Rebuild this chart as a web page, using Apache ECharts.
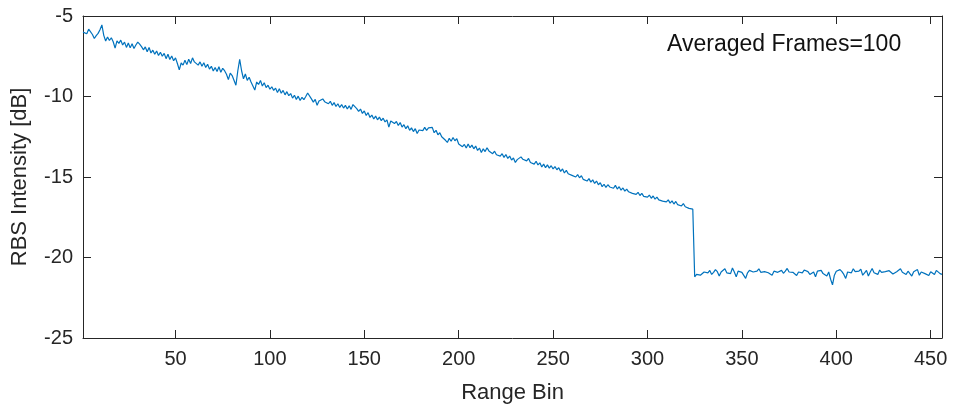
<!DOCTYPE html>
<html>
<head>
<meta charset="utf-8">
<script src="https://cdn.jsdelivr.net/npm/echarts@6/dist/echarts.min.js"></script>
<style>html,body{margin:0;padding:0;background:#fff}#c{width:954px;height:410px}</style>
</head>
<body>
<div id="c"></div>
<script>
// RBS intensity (dB) per range bin, bins 1..456
var intensity = [
-6.00,-5.88,-6.10,-5.82,-5.78,-6.15,-6.40,-6.22,-6.08,-5.85,
-5.55,-6.20,-6.55,-6.30,-6.52,-6.35,-6.60,-7.00,-6.55,-6.70,
-6.50,-6.80,-6.62,-6.95,-6.68,-6.98,-6.72,-7.02,-6.80,-6.62,
-6.75,-6.90,-7.10,-6.92,-7.22,-6.95,-7.30,-7.12,-7.38,-7.18,
-7.45,-7.25,-7.50,-7.32,-7.65,-7.38,-7.70,-7.48,-7.78,-7.60,
-7.95,-8.35,-7.92,-8.05,-7.75,-8.02,-7.68,-7.95,-7.60,-7.85,
-7.78,-8.05,-7.85,-8.12,-7.90,-8.20,-8.00,-8.30,-8.12,-8.42,
-8.20,-8.45,-8.15,-8.50,-8.25,-8.40,-8.62,-8.95,-8.55,-8.70,
-8.60,-9.30,-8.40,-7.70,-8.40,-8.90,-8.60,-9.00,-8.80,-9.10,
-9.00,-9.60,-9.10,-9.25,-9.00,-9.35,-9.15,-9.45,-9.30,-9.55,
-9.40,-9.62,-9.48,-9.75,-9.52,-9.80,-9.62,-9.90,-9.70,-9.95,
-9.82,-10.10,-9.92,-10.18,-9.98,-10.25,-10.05,-10.20,-10.00,-9.78,
-9.85,-10.15,-10.35,-10.18,-10.55,-10.28,-10.40,-10.15,-10.32,-10.20,
-10.45,-10.30,-10.55,-10.38,-10.62,-10.45,-10.68,-10.50,-10.72,-10.55,
-10.78,-10.58,-10.80,-10.50,-10.38,-10.75,-10.92,-10.78,-11.05,-10.90,
-11.18,-11.00,-11.30,-11.15,-11.40,-11.22,-11.45,-11.28,-11.50,-11.35,
-11.58,-11.45,-11.90,-11.52,-11.40,-11.68,-11.55,-11.80,-11.62,-11.90,
-11.75,-12.00,-11.82,-12.10,-11.95,-12.18,-12.00,-12.30,-12.08,-11.98,
-12.12,-11.92,-12.10,-11.95,-12.05,-11.92,-12.25,-12.10,-12.38,-12.25,
-12.50,-12.38,-12.72,-12.85,-12.60,-12.78,-12.55,-12.75,-12.62,-12.95,
-12.88,-13.12,-12.98,-13.20,-12.95,-13.18,-13.02,-13.25,-13.08,-13.35,
-13.20,-13.48,-13.25,-13.42,-13.18,-13.38,-13.30,-13.55,-13.40,-13.62,
-13.50,-13.70,-13.55,-13.78,-13.60,-13.85,-13.70,-13.95,-13.82,-14.10,
-13.92,-13.98,-13.75,-13.90,-13.78,-14.00,-13.85,-14.10,-13.98,-14.20,
-14.02,-14.25,-14.12,-14.38,-14.20,-14.42,-14.25,-14.45,-14.30,-14.50,
-14.35,-14.55,-14.42,-14.65,-14.50,-14.75,-14.58,-14.80,-14.68,-14.90,
-14.78,-15.00,-14.85,-15.05,-14.92,-15.15,-15.05,-15.25,-15.10,-15.32,
-15.18,-15.40,-15.25,-15.48,-15.35,-15.60,-15.45,-15.65,-15.48,-15.62,
-15.55,-15.70,-15.52,-15.75,-15.60,-15.82,-15.68,-15.88,-15.75,-15.92,
-15.82,-16.02,-15.90,-16.08,-15.95,-16.15,-16.02,-16.20,-16.08,-16.25,
-16.12,-16.32,-16.18,-16.38,-16.25,-16.42,-16.30,-16.50,-16.38,-16.55,
-16.42,-16.62,-16.48,-16.68,-16.52,-16.72,-16.60,-16.80,-16.65,-16.85,
-16.78,-16.95,-16.85,-17.00,-21.20,-21.05,-20.95,-21.10,-20.98,-20.90,
-20.85,-20.95,-20.80,-21.05,-20.92,-20.75,-20.88,-21.15,-20.90,-20.82,
-20.70,-20.95,-20.88,-21.00,-20.65,-20.90,-21.20,-20.85,-20.78,-20.92,
-20.88,-21.30,-20.95,-20.80,-20.72,-20.90,-20.98,-20.85,-20.70,-20.92,
-21.00,-20.88,-20.82,-20.95,-20.90,-21.10,-20.85,-20.75,-20.92,-20.88,
-20.80,-20.98,-20.85,-20.68,-20.90,-21.00,-20.92,-20.80,-21.12,-20.90,
-20.85,-20.95,-20.78,-20.70,-20.88,-21.05,-20.95,-20.90,-21.20,-20.85,
-20.92,-20.80,-21.00,-20.88,-21.15,-20.90,-21.35,-21.70,-21.10,-20.85,
-20.95,-20.75,-20.88,-21.05,-21.30,-20.90,-20.80,-20.95,-20.70,-20.88,
-21.00,-20.85,-20.72,-21.10,-20.95,-20.80,-21.15,-20.90,-20.68,-20.95,
-20.85,-21.05,-20.78,-20.92,-21.00,-20.88,-20.95,-20.82,-20.90,-21.02,
-20.95,-20.88,-20.80,-20.70,-20.92,-20.98,-21.05,-20.85,-20.92,-21.15,
-20.88,-20.95,-20.75,-21.10,-20.90,-20.85,-21.00,-20.92,-21.12,-20.88,
-20.95,-21.05,-20.80,-20.92,-21.00,-21.05
];
var xTicks = [50, 100, 150, 200, 250, 300, 350, 400, 450];
var yTicks = [-25, -20, -15, -10, -5];
var xName = 'Range Bin';
var yName = 'RBS Intensity [dB]';
var note = 'Averaged Frames=100';

var points = intensity.map(function (v, i) { return [i + 1, v]; });

var FONT = 'Liberation Sans, Arial, Helvetica, sans-serif';
var AX = '#262626';
var chart = echarts.init(document.getElementById('c'), null, { renderer: 'canvas' });

function xAxisCfg(pos, labels) {
  return {
    type: 'value', position: pos, min: 1, max: 456,
    axisLine: { show: true, onZero: false, lineStyle: { color: AX, width: 1 } },
    axisTick: { show: true, inside: true, length: 8, customValues: xTicks, lineStyle: { color: AX } },
    axisLabel: { show: labels, customValues: xTicks, color: AX, fontFamily: FONT, fontSize: 20, margin: 11 },
    splitLine: { show: false },
    name: labels ? xName : '', nameLocation: 'middle', nameGap: 44,
    nameTextStyle: { color: AX, fontFamily: FONT, fontSize: 22 }
  };
}
function yAxisCfg(pos, labels) {
  return {
    type: 'value', position: pos, min: -25, max: -5, interval: 5,
    axisLine: { show: true, onZero: false, lineStyle: { color: AX, width: 1 } },
    axisTick: { show: true, inside: true, length: 8, lineStyle: { color: AX } },
    axisLabel: { show: labels, color: AX, fontFamily: FONT, fontSize: 20, margin: 10 },
    splitLine: { show: false },
    name: labels ? yName : '', nameLocation: 'middle', nameGap: 52,
    nameTextStyle: { color: AX, fontFamily: FONT, fontSize: 22 }
  };
}

chart.setOption({
  animation: false,
  backgroundColor: '#ffffff',
  grid: { left: 83, right: 12, top: 16, bottom: 72, containLabel: false },
  xAxis: [xAxisCfg('bottom', true), xAxisCfg('top', false)],
  yAxis: [yAxisCfg('left', true), yAxisCfg('right', false)],
  graphic: [{
    type: 'text', left: 667, top: 33,
    style: { text: note, fill: '#111', font: '23px ' + FONT }
  }],
  series: [{
    type: 'line', xAxisIndex: 0, yAxisIndex: 0,
    data: points, showSymbol: false, symbol: 'none',
    lineStyle: { color: '#0072BD', width: 1.2 }
  }]
});
</script>
</body>
</html>
